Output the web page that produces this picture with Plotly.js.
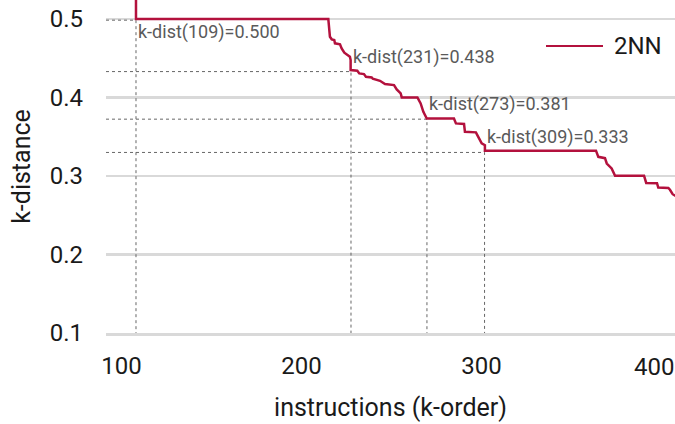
<!DOCTYPE html>
<html>
<head>
<meta charset="utf-8">
<script src="https://cdn.plot.ly/plotly-3.0.1.min.js"></script>
<style>html,body{margin:0;padding:0;background:#fff;}#chart{width:675px;height:424px;}</style>
</head>
<body>
<div id="chart"></div>
<script>
// 2NN k-distance curve
const instr = [108.06, 108.06, 214.9, 215.8, 216.8, 218.2, 218.6, 221.4, 222.3, 223.8, 226.9, 227.3, 227.3, 231.0, 232.1, 234.7, 235.8, 239.0, 239.6, 243.6, 246.4, 251.4, 252.9, 255.1, 255.7, 264.4, 266.2, 267.7, 269.6, 284.7, 285.8, 290.3, 290.8, 296.9, 298.2, 300.1, 301.9, 301.9, 363.6, 364.9, 368.6, 369.6, 372.3, 374.2, 390.3, 391.5, 397.5, 398.2, 403.8, 404.7, 406.2, 408.1];
const kdist = [0.535, 0.5, 0.5, 0.4774, 0.4741, 0.4732, 0.4690, 0.4677, 0.4626, 0.4570, 0.4519, 0.4477, 0.4349, 0.4341, 0.4307, 0.4298, 0.4264, 0.4256, 0.4239, 0.4213, 0.4171, 0.4158, 0.4103, 0.4052, 0.4001, 0.4001, 0.3925, 0.3818, 0.3733, 0.3733, 0.3670, 0.3663, 0.3563, 0.3556, 0.3499, 0.3415, 0.3393, 0.3323, 0.3323, 0.3244, 0.3227, 0.3159, 0.3096, 0.3004, 0.3004, 0.2912, 0.2908, 0.2853, 0.2848, 0.2825, 0.2768, 0.2742];

// marked points
const markIdx = ['109', '231', '273', '309'];
const markLabel = ['0.500', '0.438', '0.381', '0.333'];
const markX = [108.06, 227.5, 269.7, 301.7];
const markY = [0.4985, 0.433, 0.3724, 0.330];

const xTicks = [100, 200, 300, 400];
const xTickText = ['100', '200', '300', '400'];
const yTicks = [0.1, 0.2, 0.3, 0.4, 0.5];

const xRange = [91.4, 407.5];
const yRange = [0.1, 0.5242];

const FONT = 'Roboto, "DejaVu Sans", sans-serif';
const LINE_COLOR = '#b3113d';
const TEXT_COLOR = '#1a1a1a';

// dotted guide lines
const gx = [], gy = [];
for (let i = 0; i < markX.length; i++) {
  gx.push(xRange[0], markX[i], markX[i], null);
  gy.push(markY[i], markY[i], yRange[0], null);
}

const traces = [
  {
    x: gx, y: gy, type: 'scatter', mode: 'lines',
    line: {color: '#666', width: 1, dash: 'dot'},
    hoverinfo: 'skip', showlegend: false, connectgaps: false
  },
  {
    x: instr, y: kdist, type: 'scatter', mode: 'lines', name: '2NN',
    line: {color: LINE_COLOR, width: 2.5}, showlegend: false
  }
];

const annotations = markIdx.map((k, i) => ({
  x: markX[i], y: markY[i], xref: 'x', yref: 'y',
  text: 'k-dist(' + k + ')=' + markLabel[i],
  showarrow: false, xanchor: 'left', yanchor: i === 0 ? 'top' : 'bottom',
  xshift: 0, yshift: i === 0 ? 1 : 2,
  font: {family: FONT, size: 18, color: '#5a5a5a'}
}));

// the last x tick label sits at the page edge: draw it nudged inward so it is not cut
const lastTick = xTicks.length - 1;
annotations.push({
  x: xTicks[lastTick], y: yRange[0], xref: 'x', yref: 'y', text: xTickText[lastTick],
  showarrow: false, xanchor: 'center', yanchor: 'top', xshift: -8, yshift: -18,
  font: {family: FONT, size: 24, color: TEXT_COLOR}
});

const pw = 675 - 106, ph = 424 - 91.4;
// legend text
annotations.push({
  x: (612 - 106) / pw, y: (ph - 46) / ph, xref: 'paper', yref: 'paper', text: '2NN', showarrow: false,
  xanchor: 'left', yanchor: 'middle', font: {family: FONT, size: 24, color: TEXT_COLOR}
});

const layout = {
  width: 675, height: 424,
  margin: {l: 106, r: 0, t: 0, b: 91.4},
  paper_bgcolor: '#fff', plot_bgcolor: '#fff',
  font: {family: FONT, size: 24, color: TEXT_COLOR},
  showlegend: false,
  xaxis: {
    range: xRange, tickvals: xTicks,
    ticktext: xTickText.map((t, i) => i === lastTick ? '' : t),
    showgrid: false, zeroline: false, showline: true, linecolor: '#d9d9d9', linewidth: 2.5,
    ticks: '', ticklabelstandoff: 10, ticklabeloverflow: 'allow',
    title: {text: 'instructions (k-order)', standoff: 19, font: {family: FONT, size: 25, color: TEXT_COLOR}}
  },
  yaxis: {
    range: yRange, tickvals: yTicks, ticktext: yTicks.map(v => v.toFixed(1)),
    showgrid: true, gridcolor: '#d9d9d9', gridwidth: 2.5, zeroline: false, showline: false,
    ticks: '', ticklabelstandoff: 22,
    title: {text: 'k-distance', standoff: 11, font: {family: FONT, size: 25, color: TEXT_COLOR}}
  },
  annotations: annotations,
  shapes: [{
    type: 'line', xref: 'paper', yref: 'paper',
    x0: (546 - 106) / pw, x1: (603 - 106) / pw, y0: (ph - 46) / ph, y1: (ph - 46) / ph,
    line: {color: LINE_COLOR, width: 2}
  }]
};

Plotly.newPlot('chart', traces, layout, {staticPlot: true, displayModeBar: false});
</script>
</body>
</html>
